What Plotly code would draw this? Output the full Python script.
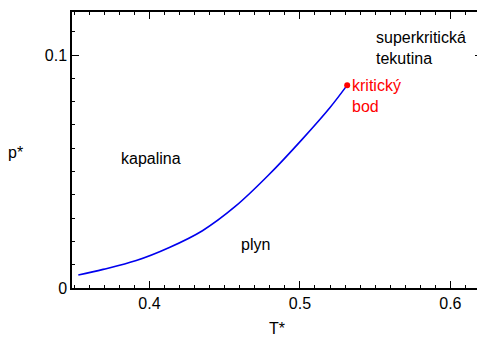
import plotly.graph_objects as go

# data
T_curve = [0.3527, 0.3692, 0.3912, 0.4132, 0.4352, 0.4570, 0.4790, 0.5010, 0.5200, 0.5314]
p_curve = [0.0056, 0.0080, 0.0118, 0.0174, 0.0246, 0.0350, 0.0484, 0.0635, 0.0775, 0.0871]
T_crit = [0.5314]
p_crit = [0.0871]

x_ticks = [0.4, 0.5, 0.6]
x_tick_labels = ["0.4", "0.5", "0.6"]
y_ticks = [0, 0.1]
y_tick_labels = ["0", "0.1"]

labels = ["kapalina", "plyn", "superkritická<br>tekutina"]
label_T = [0.4013, 0.4706, 0.5492]
label_p = [0.0558, 0.0185, 0.1030]

FONT = "Liberation Sans, Arial, sans-serif"
FS = 16

fig = go.Figure()
fig.add_trace(go.Scatter(x=T_curve, y=p_curve, mode="lines",
                         line=dict(color="#0000ee", width=1.6, shape="spline", smoothing=1.0),
                         showlegend=False, hoverinfo="skip"))
fig.add_trace(go.Scatter(x=T_crit, y=p_crit, mode="markers",
                         marker=dict(color="red", size=6),
                         showlegend=False, hoverinfo="skip"))

for i, (t, tx, ty) in enumerate(zip(labels, label_T, label_p)):
    fig.add_annotation(x=tx, y=ty, text=t, showarrow=False,
                       xanchor="left" if i == 2 else "center", yanchor="middle",
                       align="left", font=dict(family=FONT, size=FS, color="black"))

fig.add_annotation(x=T_crit[0], y=p_crit[0], text="kritický<br>bod", showarrow=False,
                   xanchor="left", yanchor="top", xshift=3, yshift=10, align="left",
                   font=dict(family=FONT, size=FS, color="red"))

fig.add_annotation(x=-0.16, y=0.49, xref="paper", yref="paper", text="p*",
                   showarrow=False, xanchor="left", yanchor="middle",
                   font=dict(family=FONT, size=FS, color="black"))
fig.add_annotation(x=0.5, y=-0.11, xref="paper", yref="paper", text="T*",
                   showarrow=False, xanchor="center", yanchor="top",
                   font=dict(family=FONT, size=FS, color="black"))

axis_common = dict(showgrid=False, zeroline=False, showline=True, linecolor="black",
                   linewidth=1.5, mirror="ticks", ticks="inside", ticklen=7,
                   tickwidth=1, tickcolor="black",
                   tickfont=dict(family=FONT, size=FS, color="black"))

fig.update_xaxes(range=[0.3485, 0.621], tickvals=x_ticks, ticktext=x_tick_labels,
                 minor=dict(dtick=0.01, tick0=0, ticks="inside", ticklen=3, tickcolor="black"),
                 **axis_common)
fig.update_yaxes(range=[0, 0.1185], tickvals=y_ticks, ticktext=y_tick_labels,
                 minor=dict(dtick=0.01, tick0=0, ticks="inside", ticklen=3, tickcolor="black"),
                 **axis_common)

fig.update_layout(width=477, height=330, margin=dict(l=64, r=1, t=4, b=50),
                  plot_bgcolor="white", paper_bgcolor="white",
                  font=dict(family=FONT, size=FS, color="black"))

fig.write_html("out.html")
